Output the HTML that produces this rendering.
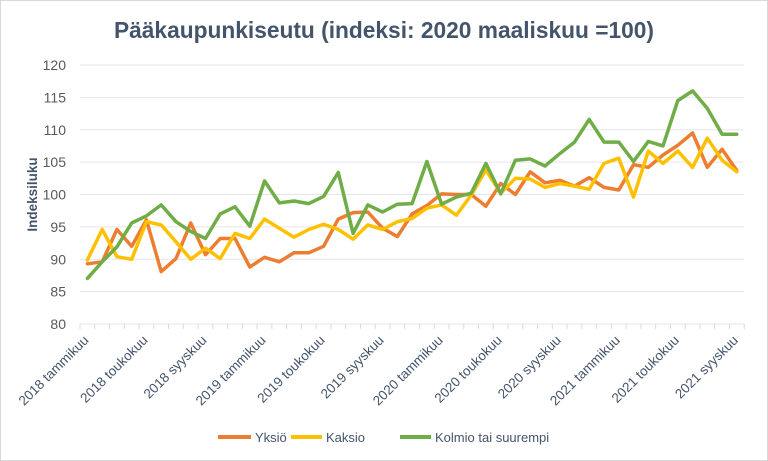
<!DOCTYPE html>
<html><head><meta charset="utf-8"><style>
body{margin:0;background:#fff}
svg{display:block;font-family:"Liberation Sans",sans-serif}
</style></head><body>
<svg id="s" width="768" height="461" viewBox="0 0 768 461">
<rect x="0.5" y="0.5" width="767" height="460" fill="#fff" stroke="#d9d9d9"/>
<text x="384" y="38" text-anchor="middle" font-size="23" font-weight="bold" fill="#44546a" textLength="540" lengthAdjust="spacingAndGlyphs">Pääkaupunkiseutu (indeksi: 2020 maaliskuu =100)</text>
<text transform="translate(37,194.5) rotate(-90)" text-anchor="middle" font-size="13.5" font-weight="bold" fill="#44546a">Indeksiluku</text>
<g id="g"></g>
<g font-size="13" fill="#44546a">
<line x1="218" y1="437" x2="251" y2="437" stroke="#ed7d31" stroke-width="4"/><text x="255" y="442">Yksiö</text>
<line x1="291" y1="437" x2="322" y2="437" stroke="#ffc000" stroke-width="4"/><text x="326" y="442">Kaksio</text>
<line x1="400" y1="437" x2="431" y2="437" stroke="#70ad47" stroke-width="4"/><text x="435" y="442">Kolmio tai suurempi</text>
</g>
</svg>
<script>
var g=document.getElementById('g'),h='';
function Y(v){return 324-(v-80)*6.475}
function X(i){return 87.4+14.76*i}
for(var v=80;v<=120;v+=5){h+='<line x1="80" x2="744" y1="'+Y(v)+'" y2="'+Y(v)+'" stroke="#e3e6ec" stroke-width="1"/>';
h+='<text x="66" y="'+(Y(v)+5)+'" text-anchor="end" font-size="14" fill="#595959">'+v+'</text>';}
for(var i=0;i<=45;i++){var x=80+14.76*i;h+='<line x1="'+x+'" x2="'+x+'" y1="324" y2="329" stroke="#d9d9d9"/>';}
var L=['tammikuu','toukokuu','syyskuu'];
for(var k=0;k<12;k++){var i=k*4,x=X(i)+2,y=341;
h+='<text transform="translate('+x+','+y+') rotate(-45)" text-anchor="end" font-size="13.5" fill="#44546a">'+(2018+Math.floor(k/3))+' '+L[k%3]+'</text>';}
var O=[89.3,89.6,94.6,92,96.1,88.1,90.1,95.6,90.7,93.2,93.2,88.8,90.3,89.6,91,91,92,96.2,97.2,97.3,94.8,93.5,97,98.3,100.1,100,100,98.2,101.7,100,103.5,101.8,102.2,101.3,102.6,101.1,100.7,104.6,104.2,106.1,107.6,109.5,104.2,107,103.7];
var K=[89.9,94.6,90.4,90,95.8,95.3,92.7,90,91.7,90.1,94,93.2,96.2,94.8,93.4,94.6,95.4,94.6,93.1,95.3,94.6,95.8,96.3,97.9,98.4,96.8,99.9,103.8,100.2,102.5,102.4,101.1,101.7,101.3,100.8,104.8,105.6,99.6,106.7,104.8,106.7,104.2,108.7,105.3,103.5];
var G=[87.05,89.6,91.9,95.6,96.7,98.4,95.8,94.3,93.2,97,98.1,95.1,102.1,98.7,99,98.6,99.7,103.4,94,98.4,97.3,98.5,98.6,105.1,98.5,99.6,100.2,104.8,100.1,105.3,105.5,104.4,106.3,108.1,111.6,108.1,108.1,105.1,108.2,107.5,114.5,116,113.3,109.3,109.3];
function P(a,c){return '<polyline fill="none" stroke="'+c+'" stroke-width="3.5" stroke-linejoin="round" stroke-linecap="round" points="'+a.map(function(v,i){return X(i).toFixed(1)+','+Y(v).toFixed(1)}).join(' ')+'"/>'}
h+=P(O,'#ed7d31')+P(K,'#ffc000')+P(G,'#70ad47');
g.innerHTML=h;
</script>
</body></html>
